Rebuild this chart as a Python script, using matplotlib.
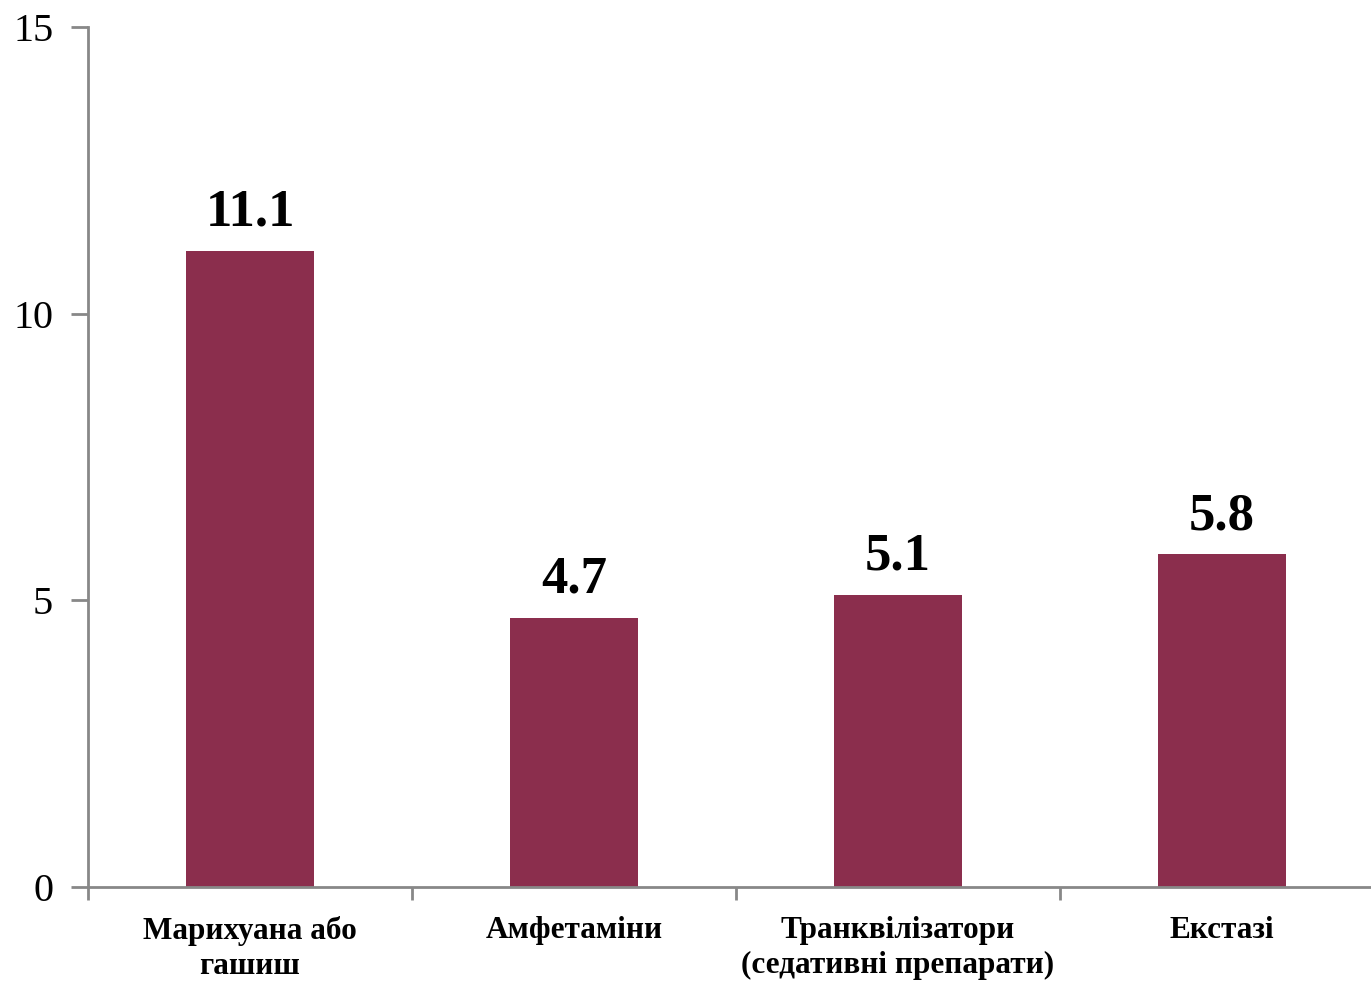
import matplotlib
matplotlib.use("Agg")
import matplotlib.pyplot as plt

categories = ["Марихуана або\nгашиш", "Амфетаміни", "Транквілізатори\n(седативні препарати)", "Екстазі"]
values = [11.1, 4.7, 5.1, 5.8]
yticks = [0, 5, 10, 15]

W, H = 1371, 981
fig = plt.figure(figsize=(W/100, H/100), dpi=100)
ax = fig.add_axes([88/W, 1-887/H, (1371-88)/W, (887-27)/H])

x = list(range(len(categories)))
ax.bar(x, values, width=0.395, color="#8B2E4D", zorder=2)
ax.set_xlim(-0.5, -0.5 + (1371-88)/324)
ax.set_ylim(0, 15)

for xi, v in zip(x, values):
    ax.text(xi, v + 0.25, f"{v}", ha="center", va="bottom", fontsize=38,
            fontweight="bold", family="Liberation Serif")

ax.set_yticks(yticks)
ax.set_yticklabels([str(t) for t in yticks], fontsize=29, family="Liberation Serif")
ax.set_xticks([i + 0.5 for i in range(-1, 3)])
ax.set_xticklabels([])
ax.set_xticks(x, minor=True)
ax.set_xticklabels(categories, minor=True, fontsize=22.5, fontweight="bold",
                   family="Liberation Serif", linespacing=1.28)
ax.tick_params(axis="x", which="minor", length=0, pad=21)
ax.tick_params(axis="x", which="major", length=9, width=2, color="#888888", direction="out")
ax.tick_params(axis="y", length=12, width=2, color="#888888", direction="out", pad=13)

for s in ["top", "right"]:
    ax.spines[s].set_visible(False)
for s in ["left", "bottom"]:
    ax.spines[s].set_color("#888888")
    ax.spines[s].set_linewidth(2)

fig.savefig("out.png", dpi=100)
